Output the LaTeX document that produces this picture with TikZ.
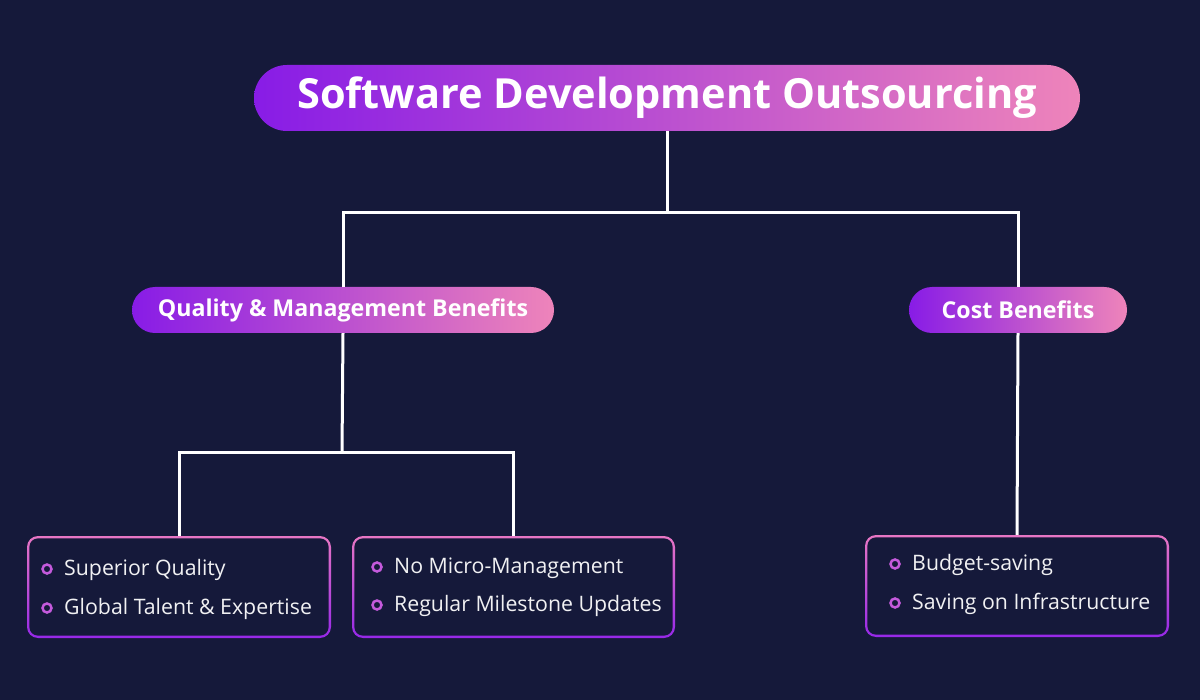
\documentclass[tikz,border=0pt]{standalone}
\usepackage{fontspec}
\setmainfont{Open Sans}
\usetikzlibrary{calc}
\definecolor{bg}{RGB}{21,25,58}
\definecolor{gpurple}{RGB}{136,28,230}
\definecolor{gpink}{RGB}{238,132,186}
\definecolor{bpink}{RGB}{232,118,196}
\definecolor{bpurple}{RGB}{150,40,232}
\definecolor{ring}{RGB}{196,90,220}
\tikzset{
  pill/.style={rectangle, rounded corners=#1, left color=gpurple, right color=gpink,
    text=white, font=\bfseries, inner sep=0pt, draw=none},
  gbox/.style={rectangle, rounded corners=11pt, top color=bpink, bottom color=bpurple,
    inner sep=0pt, draw=none},
  item/.style={anchor=west, text=white!94!bg, font=\fontsize{21.3}{24}\selectfont, inner sep=0pt},
  dot/.style={circle, draw=ring, line width=2.5pt, minimum size=9pt, inner sep=0pt},
  conn/.style={draw=white, line width=3pt},
}
\begin{document}
\begin{tikzpicture}[x=1pt,y=-1pt]
\fill[bg] (0,0) rectangle (1200,700);
\useasboundingbox (0,0) rectangle (1200,700);

% pills
\node[pill=33pt, minimum width=826pt, minimum height=66pt,
      font=\fontsize{41.5}{46}\bfseries\selectfont] (title) at (667,98) {Software Development Outsourcing};
\node[pill=23pt, minimum width=422pt, minimum height=46pt,
      font=\fontsize{23.2}{27}\bfseries\selectfont] (qual) at (343,310) {Quality \& Management Benefits};
\node[pill=23pt, minimum width=218pt, minimum height=46pt,
      font=\fontsize{23.2}{27}\bfseries\selectfont] (cost) at (1018,310) {Cost Benefits};

% boxes
\node[gbox, minimum width=304pt, minimum height=102pt] (b1) at (179,587) {};
\node[gbox, minimum width=323pt, minimum height=102pt] (b2) at (513.5,587) {};
\node[gbox, minimum width=304pt, minimum height=102pt] (b3) at (1017,586) {};
\foreach \b in {b1,b2,b3}{
  \fill[bg, rounded corners=8.5pt] ($(\b.south west)+(2.6,-2.6)$) rectangle ($(\b.north east)+(-2.6,2.6)$);
}

% items
\node[dot] (d11) at (47,569) {};
\node[item] (t11) at (64,570) {Superior Quality};
\node[dot] (d12) at (47,608) {};
\node[item] (t12) at (64,609) {Global Talent \& Expertise};
\node[dot] (d21) at (377,567) {};
\node[item] (t21) at (394,568) {No Micro-Management};
\node[dot] (d22) at (377,605) {};
\node[item] (t22) at (394,606) {Regular Milestone Updates};
\node[dot] (d31) at (895,564) {};
\node[item] (t31) at (912,565) {Budget-saving};
\node[dot] (d32) at (895,603) {};
\node[item] (t32) at (912,604) {Saving on Infrastructure};

% connectors
\coordinate (j1) at (667,213);
\coordinate (j2) at (342,453);
\draw[conn] (title.south) -- (j1);
\draw[conn] (qual.north) |- (j1) -| (cost.north);
\draw[conn] (qual.south) -- (j2);
\draw[conn] (b1.north) |- (j2) -| (b2.north);
\draw[conn] (cost.south) -- (b3.north);
\end{tikzpicture}
\end{document}
